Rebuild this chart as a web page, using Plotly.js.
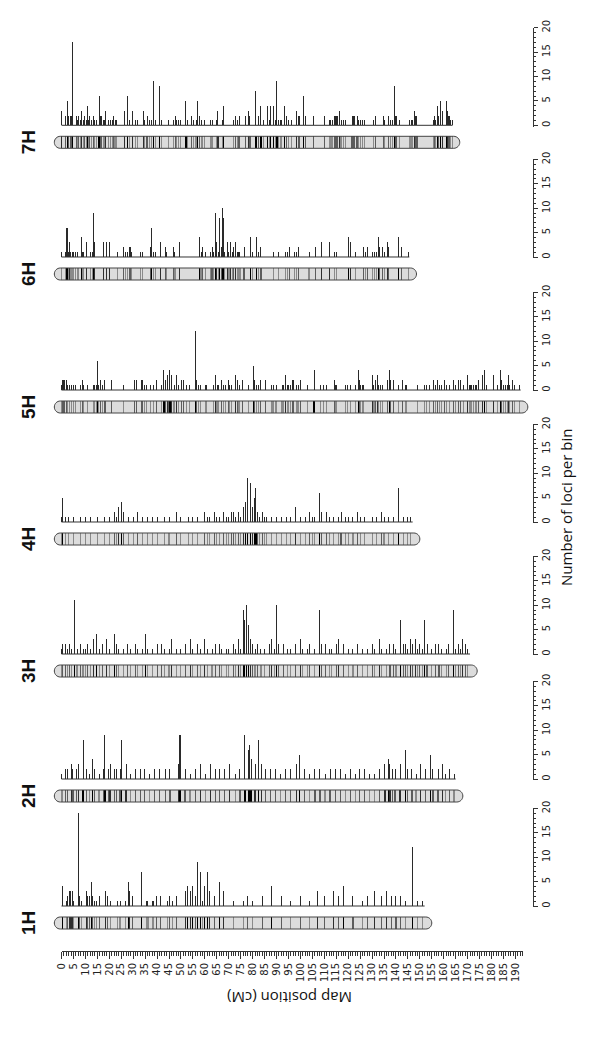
<!DOCTYPE html>
<html><head><meta charset="utf-8">
<script src="https://cdn.plot.ly/plotly-3.0.1.min.js"></script>
<style>body{margin:0;background:#fff}#chart{width:600px;height:1041px}</style>
</head><body><div id="chart"></div>
<script>
// ---- DATA ----
const chromNames = ['1H','2H','3H','4H','5H','6H','7H'];
const chromLengths = [152, 165, 171, 147, 192.2, 145.6, 163.7];
const rulerTickLabels = [0,5,10,15,20,25,30,35,40,45,50,55,60,65,70,75,80,85,90,95,100,105,110,115,120,125,130,135,140,145,150,155,160,165,170,175,180,185,190];
const lociTickLabels = [0,5,10,15,20];
// [map position (cM), number of loci in bin]
const bins1H = [[0.3,4],[2.2,1],[2.7,2],[3.3,3],[3.8,3],[4.4,3],[5.0,1],[7.0,19],[7.5,2],[8.3,1],[10.3,3],[11.0,2],[11.7,2],[12.5,5],[13.0,2],[13.7,1],[14.7,1],[15.8,2],[18.6,3],[19.3,2],[20.7,1],[23.6,1],[24.5,1],[26.7,1],[27.9,5],[28.4,3],[29.8,2],[33.4,7],[35.6,1],[36.2,1],[37.9,1],[38.6,1],[39.8,2],[41.5,2],[44.2,1],[45.1,2],[46.3,1],[48.1,2],[51.8,3],[52.7,4],[54,3],[55,4],[56,2],[57,9],[58,7],[59,1],[60,4],[61,7],[62,3],[64,2],[66,5],[68,3],[72,1],[76,1],[78,2],[80,1],[84,2],[88,4],[92,2],[96,1],[100,2],[104,1],[107,3],[110,2],[114,3],[116,2],[118,4],[122,2],[126,1],[128,2],[131,3],[134,2],[136,3],[138,2],[140,2],[142,2],[144,1],[147,12],[149,1],[151,1]];
const bins2H = [[0.2,1],[1.5,2],[2.7,2],[4.0,3],[4.8,2],[6.1,2],[7.3,3],[9.0,8],[10.3,2],[11.9,1],[12.8,4],[14.0,2],[15.7,1],[17.4,2],[18.2,9],[19.5,2],[20.3,3],[22.0,2],[23.2,2],[24.5,2],[25.3,8],[27.0,3],[28.7,1],[30.8,2],[32.9,2],[34.9,2],[37.0,1],[39.1,2],[41.2,2],[43.7,2],[45.4,2],[48.8,3],[49.6,9],[51.7,2],[53.8,1],[55.9,2],[58.0,3],[60.1,1],[62.2,3],[64.3,2],[66.3,2],[68.4,2],[70.5,3],[73.0,1],[74.7,2],[76.8,9],[78.1,6],[78.9,7],[79.7,4],[81.0,3],[82.3,8],[83.9,3],[85.2,2],[87.3,2],[89.4,2],[91.5,1],[93.6,2],[95.7,2],[98.2,3],[99.8,5],[101.9,2],[104.0,1],[106.1,2],[108.2,2],[110.3,1],[112.4,2],[114.5,2],[116.6,2],[118.7,1],[120.8,2],[122.9,1],[124.9,2],[127.0,2],[129.1,1],[131.2,1],[133.3,2],[135.4,3],[136.7,4],[137.5,3],[138.4,2],[139.6,2],[141.7,3],[143.8,6],[145.0,2],[146.7,2],[148.4,1],[150.1,3],[152.2,2],[154.3,5],[155.5,2],[157.6,2],[159.3,3],[160.9,1],[162.6,2],[164.3,1]];
const bins3H = [[0,1],[0.6,2],[1.5,2],[2.5,1],[3.2,2],[4.0,1],[5.5,11],[6.5,1],[8,2],[9,1],[10,1],[11,2],[12,1],[13.5,3],[14.5,4],[16,1],[17,2],[19,3],[20,1],[22,4],[23,2],[24,1],[26,1],[27.5,2],[29,1],[31,2],[32,1],[34,1],[35,4],[36,1],[38,1],[40,2],[42,2],[43,1],[45,1],[46,3],[48,1],[50,1],[52,2],[54,3],[55,1],[57,2],[58,1],[60,3],[61,1],[63,1],[64.5,2],[66,2],[67,1],[69,1],[70,1],[72,2],[73,1],[74,3],[75,1],[76,9],[76.6,7],[77.4,10],[78.2,6],[79,3],[80,2],[81,1],[82,2],[83.5,1],[85,1],[87,2],[88,3],[89,1],[90,10],[91,2],[93,2],[94.5,1],[96,1],[98,2],[100,3],[101,1],[103,1],[104,2],[106,1],[108,9],[109,2],[110.5,2],[112,1],[113,1],[115,2],[116,3],[118,2],[120,1],[122,1],[124,2],[126,1],[128,1],[130,2],[131,1],[133,3],[134,1],[136,1],[137.5,2],[139,2],[140,1],[142,7],[143,2],[144,2],[145,1],[146,3],[147,2],[148,3],[149,1],[150,2],[151,1],[152,7],[153,2],[155,1],[156.5,2],[158,2],[159,1],[161,1],[162,2],[164,9],[165,1],[166,2],[167,1],[168,3],[169,2],[170,1]];
const bins4H = [[0,1],[0.6,5],[1.5,1],[3,1],[5,1],[8,1],[10,1],[12,1],[15,1],[18,1],[20,1],[22,2],[23,1],[24,3],[25,4],[26,2],[28,1],[30,1],[32,2],[34,1],[36,1],[38,1],[40,1],[43,1],[45,1],[48,2],[50,1],[53,1],[55,1],[57,1],[60,2],[61,1],[62,1],[64,2],[65,1],[66,1],[68,2],[69,1],[70,1],[71,2],[72,2],[73,1],[74,2],[75,1],[76,3],[77,4],[78,9],[79,8],[80,3],[80.6,5],[81.4,7],[82,2],[83,1],[84,2],[85,1],[86,1],[88,1],[90,1],[92,1],[94,1],[96,1],[98,3],[100,1],[102,1],[104,2],[105,1],[106,1],[108,6],[109,2],[111,2],[112,1],[114,1],[116,1],[117,2],[119,1],[120,1],[122,1],[124,2],[125,1],[127,1],[130,1],[132,1],[134,2],[135,1],[137,1],[139,1],[141,7],[143,1],[145,1],[146,1]];
const bins5H = [[0,1],[0.3,2],[0.8,2],[1.3,2],[1.9,2],[2.4,1],[3.3,1],[4.1,1],[5.0,1],[5.7,1],[8.0,1],[8.7,2],[9.4,1],[11.0,1],[13.3,1],[13.9,1],[14.6,1],[15.0,6],[15.6,1],[16.4,2],[17.1,1],[18.2,2],[21.0,2],[25.9,1],[30.5,2],[31.3,2],[33.3,2],[34.0,2],[34.7,1],[35.6,1],[37.3,1],[38.6,1],[39.8,2],[41.9,1],[42.6,1],[42.9,4],[43.7,2],[44.4,3],[45.0,2],[45.4,4],[45.9,3],[47.1,1],[48.1,3],[48.9,1],[50.2,2],[50.9,2],[52.3,1],[53.5,1],[56.0,12],[56.6,2],[57.3,1],[58.3,1],[60.1,1],[60.5,1],[63.8,1],[64.4,3],[65.1,1],[65.8,1],[66.9,2],[67.7,1],[68.7,1],[69.8,2],[70.5,1],[71.1,1],[72.8,3],[73.6,2],[74.3,1],[75.6,2],[78.3,1],[80.3,5],[80.9,2],[81.7,1],[82.5,1],[83.2,2],[85.3,2],[88.1,1],[88.8,1],[89.8,1],[92.3,1],[92.9,1],[93.8,3],[94.5,1],[95.1,1],[95.9,1],[96.8,2],[97.3,2],[98.2,1],[99.0,1],[100.0,2],[103.0,1],[105.7,4],[108.5,1],[109.6,1],[110.9,1],[114.2,2],[114.9,1],[118.9,1],[119.6,1],[120.8,1],[122.9,1],[124.2,4],[124.7,2],[125.2,1],[125.9,1],[126.6,1],[130.1,3],[130.8,1],[131.5,2],[132.1,3],[132.8,1],[133.6,1],[134.4,1],[136.4,2],[137.2,4],[137.9,2],[138.9,2],[141.0,1],[142.7,2],[144.2,1],[149.0,1],[151.9,1],[152.9,1],[154.0,1],[155.6,2],[156.5,1],[157.4,2],[158.3,1],[159.0,1],[160.5,2],[161.2,1],[162.3,1],[164.2,2],[164.8,1],[166.1,2],[166.9,2],[168.2,1],[169.9,3],[170.6,1],[171.1,1],[171.8,1],[172.4,1],[173.2,1],[173.8,1],[174.6,2],[176.3,3],[177.0,4],[178.0,1],[180.8,3],[182.4,1],[183.7,4],[184.2,2],[184.9,1],[185.8,1],[186.5,1],[187.0,3],[187.7,1],[188.7,2],[189.8,1],[191.7,1]];
const bins6H = [[0,1],[1.7,1],[2.3,6],[2.9,1],[3.3,3],[3.8,1],[4.4,1],[5.2,1],[5.9,1],[6.9,1],[8.3,4],[8.9,1],[9.4,1],[10.3,3],[12.1,1],[12.8,1],[13.3,9],[13.9,3],[17.4,3],[18.9,3],[19.9,3],[23.5,1],[25.9,2],[26.9,1],[27.6,1],[28.3,2],[28.8,2],[29.4,1],[33.0,1],[33.9,1],[37.3,2],[37.7,6],[38.4,1],[39.3,1],[41.6,3],[43.5,2],[44.0,1],[47.0,2],[47.5,1],[49.3,3],[57.7,4],[58.4,1],[59.1,2],[60.1,1],[62.4,1],[63.0,2],[63.6,1],[64.4,9],[64.9,3],[65.6,1],[66.3,8],[66.9,2],[67.3,10],[67.7,8],[68.3,1],[69.4,3],[70.1,1],[70.8,3],[71.5,1],[72.1,2],[72.9,3],[73.6,1],[74.2,1],[74.7,1],[76.4,2],[79.2,4],[79.9,1],[81.6,4],[82.3,1],[83.5,2],[88.7,1],[90.8,1],[93.6,1],[94.5,1],[95.6,2],[97.5,1],[98.2,1],[99.3,2],[103.6,1],[106.3,2],[109.0,3],[112.1,3],[114.2,1],[115.2,1],[120.3,4],[121.0,3],[122.9,1],[126.6,2],[127.2,1],[128.0,2],[130.3,1],[131.1,1],[131.7,1],[132.6,4],[133.3,2],[134.3,2],[135.1,1],[136.4,3],[137.0,2],[141.0,4],[142.4,2],[145.3,1]];
const bins7H = [[0,1],[0.1,3],[1.5,2],[2.4,5],[2.9,2],[3.6,2],[4.1,2],[4.5,17],[6.1,2],[6.6,1],[7.2,2],[7.9,1],[8.4,3],[9.1,1],[9.7,2],[10.3,1],[10.8,4],[11.4,1],[11.9,2],[12.6,1],[13.5,2],[14.0,1],[14.7,1],[15.7,6],[16.3,2],[16.8,2],[17.4,1],[17.9,1],[18.5,3],[19.6,1],[20.7,1],[21.3,1],[21.8,2],[22.4,1],[23.1,1],[26.4,3],[27.7,6],[28.3,1],[29.7,3],[30.9,1],[31.9,1],[34.3,3],[34.8,1],[35.8,2],[37.0,1],[37.6,1],[38.7,9],[39.3,1],[41.1,8],[41.7,1],[44.6,1],[46.9,1],[47.6,2],[48.2,1],[48.9,1],[50.0,1],[52.1,5],[52.7,1],[54.5,2],[55.2,1],[56.3,1],[57.0,5],[57.6,2],[58.8,1],[59.8,1],[62.4,1],[63.0,1],[64.8,1],[65.5,3],[67.2,1],[67.7,4],[71.9,1],[72.8,2],[73.7,1],[74.3,2],[77.1,2],[78.2,3],[78.9,2],[81.4,7],[82.4,2],[83.5,4],[84.5,1],[86.2,4],[86.9,1],[87.3,4],[88.7,4],[89.4,1],[90.2,9],[90.8,1],[91.5,1],[92.2,1],[93.3,4],[94.0,2],[94.9,1],[96.3,1],[98.4,3],[99.1,2],[99.8,2],[101.2,6],[102.1,2],[105.4,2],[110.0,2],[112.1,1],[112.8,1],[113.5,1],[114.2,2],[114.9,2],[115.6,2],[116.2,3],[117.0,1],[118.0,1],[118.7,1],[121.6,2],[122.1,2],[122.8,2],[123.7,2],[124.2,1],[125.2,1],[125.9,1],[126.7,1],[130.7,1],[131.5,2],[134.6,2],[135.2,1],[136.9,2],[137.8,1],[138.6,1],[139.3,8],[139.9,2],[140.4,2],[141.3,1],[145.6,1],[146.3,1],[147.0,1],[147.6,3],[148.3,2],[148.8,2],[155.6,1],[156.2,2],[156.7,1],[157.3,4],[157.9,2],[158.6,5],[159.3,3],[161.0,5],[161.5,3],[162.2,2],[162.9,1],[163.6,1]];
const chromBins = [bins1H, bins2H, bins3H, bins4H, bins5H, bins6H, bins7H];

// ---- LAYOUT CONSTANTS (pixels) ----
const W = 600, H = 1041;
const px0 = 61.5, pxPerCM = 2.389;
const baselinePx = [906, 779, 654, 522, 390, 257, 125.3];
const pxPerLocus = 4.88;
const axisXpx = 533;
const pY = p => 1 - p / H;

const data = [], shapes = [], annotations = [];
const layout = {
  width: W, height: H, margin: {l:0, r:0, t:0, b:0},
  paper_bgcolor: '#fff', plot_bgcolor: 'rgba(0,0,0,0)', showlegend: false,
  xaxis: {domain:[0,1], range:[-px0/pxPerCM, (W-px0)/pxPerCM], visible:false, fixedrange:true},
  xaxis2: {domain:[px0/W, (px0+193*pxPerCM)/W], range:[0,193], anchor:'free', position:pY(951),
    side:'bottom', showline:true, linecolor:'#333', linewidth:1, ticks:'outside', ticklen:7, tickcolor:'#333', tickwidth:1,
    tickmode:'array', tickvals:rulerTickLabels, ticktext:rulerTickLabels.map(String), tickangle:-90,
    minor:{dtick:1, tick0:0, ticks:'outside', ticklen:4, tickcolor:'#333', tickwidth:1, showgrid:false},
    tickfont:{family:'DejaVu Sans, Verdana, sans-serif', size:10, color:'#222'}, showgrid:false, zeroline:false, fixedrange:true},
  yaxis15: {domain:[0,0.01], visible:false, anchor:'x2', fixedrange:true}
};
data.push({type:'scatter', x:[0], y:[0], xaxis:'x2', yaxis:'y15', mode:'markers', marker:{opacity:0}, hoverinfo:'skip'});

const k = 0.5523;
function ideoPath(x0, x1, rx) {
  const a = x0 + rx, b = x1 - rx, ry = 0.5;
  return `M${a},1 L${b},1 C${b+k*rx},1 ${x1},${0.5+k*ry} ${x1},0.5 C${x1},${0.5-k*ry} ${b+k*rx},0 ${b},0 L${a},0 C${a-k*rx},0 ${x0},${0.5-k*ry} ${x0},0.5 C${x0},${0.5+k*ry} ${a-k*rx},1 ${a},1 Z`;
}

chromNames.forEach((name, i) => {
  const bins = chromBins[i];
  const pos = bins.map(d => d[0]);
  const cnt = bins.map(d => d[1]);
  const L = chromLengths[i];
  const b = baselinePx[i];
  const yb = 2*i + 1, yi = 2*i + 2;
  layout['yaxis' + yb] = {
    domain: [pY(b + 0.25*pxPerLocus), pY(b - 20*pxPerLocus)], range: [-0.25, 20],
    anchor:'free', position: axisXpx / W, side:'right',
    showline:true, linecolor:'#333', linewidth:1, ticks:'outside', ticklen:4, tickcolor:'#333',
    tickmode:'array', tickvals: lociTickLabels, ticktext: lociTickLabels.map(String), tickangle:-90,
    minor:{dtick:1, tick0:0, ticks:'outside', ticklen:2, tickcolor:'#333', showgrid:false},
    tickfont:{family:'DejaVu Sans, Verdana, sans-serif', size:10, color:'#222'},
    showgrid:false, zeroline:false, fixedrange:true
  };
  layout['yaxis' + yi] = {
    domain: [pY(b + 29), pY(b + 5)], range: [-0.5, 1.5], anchor:'x', visible:false, fixedrange:true
  };
  data.push({type:'bar', x: pos, y: cnt, xaxis:'x', yaxis:'y'+yb, width:0.42,
    marker:{color:'#2a2a2a', line:{width:0}}, hoverinfo:'x+y'});
  data.push({type:'scatter', x:[0, L], y:[0, 0], xaxis:'x', yaxis:'y'+yb, mode:'lines',
    line:{color:'#333', width:1}, hoverinfo:'skip'});
  data.push({type:'bar', x: pos, y: pos.map(() => 1), base: 0, xaxis:'x', yaxis:'y'+yi, width:0.45,
    marker:{color: cnt, colorscale:[[0,'#8a8a8a'],[1,'#000']], cmin:1, cmax:4, line:{width:0}}, hoverinfo:'x'});
  shapes.push({type:'path', xref:'x', yref:'y'+yi, path: ideoPath(-3, L+3, 2.5), layer:'below',
    fillcolor:'#dcdcdc', line:{width:0}});
  shapes.push({type:'path', xref:'x', yref:'y'+yi, path: ideoPath(-3, L+3, 2.5), layer:'above',
    fillcolor:'rgba(0,0,0,0)', line:{color:'#444', width:1}});
  annotations.push({xref:'x', yref:'y'+yi, x:-14, y:0.5, text:'<b>'+name+'</b>', showarrow:false,
    textangle:-90, font:{family:'Liberation Sans, Arial, sans-serif', size:19, color:'#111'}});
});

annotations.push({xref:'paper', yref:'paper', x:290/W, y:pY(1010), text:'Map position (cM)', showarrow:false,
  textangle:180, font:{family:'Open Sans, sans-serif', size:15, color:'#111'}});
annotations.push({xref:'paper', yref:'paper', x:578/W, y:pY(508), text:'Number of loci per bin', showarrow:false,
  textangle:-90, font:{family:'Open Sans, sans-serif', size:15, color:'#111'}});

layout.shapes = shapes;
layout.annotations = annotations;
layout.bargap = 0;
layout.barmode = 'overlay';

Plotly.newPlot('chart', data, layout, {staticPlot:true});
</script></body></html>
